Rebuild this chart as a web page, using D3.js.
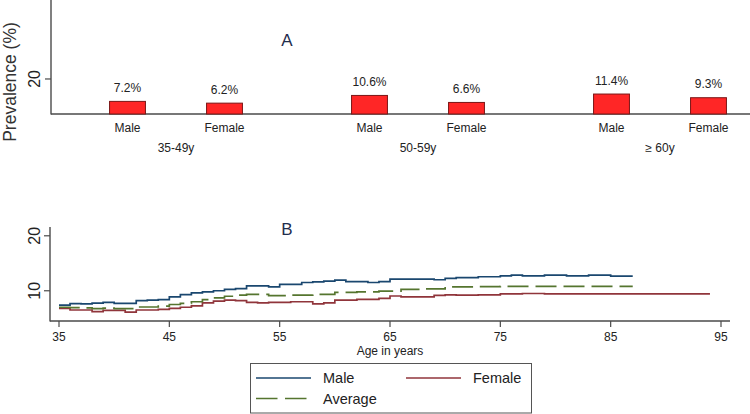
<!DOCTYPE html>
<html>
<head>
<meta charset="utf-8">
<script src="https://cdn.jsdelivr.net/npm/d3@7"></script>
<style>
  html, body { margin: 0; padding: 0; background: #fff; }
  svg { display: block; font-family: "Liberation Sans", Arial, sans-serif; }
</style>
</head>
<body>
<svg id="chart" width="750" height="414"></svg>
<script>
// ---------- Panel A data ----------
const ageGroups = ["35-49y", "50-59y", "\u2265 60y"];
const sexes = ["Male", "Female"];
const maleBars = [7.2, 10.6, 11.4];
const femaleBars = [6.2, 6.6, 9.3];
const aTicks = [20];

// ---------- Panel B data (step curves) ----------
const maleYears = d3.range(35, 88);
const maleValues = [7.4, 7.65, 7.6, 7.75, 7.9, 7.7, 7.7, 8.2, 8.3, 8.4,
  8.9, 9.3, 9.6, 9.8, 10.0, 10.25, 10.4, 10.9, 10.9, 10.7,
  11.15, 11.15, 11.5, 11.6, 11.75, 11.95, 11.65, 11.65, 11.5, 11.65,
  12.1, 12.1, 12.1, 12.1, 12.0, 12.25, 12.4, 12.4, 12.55, 12.55,
  12.7, 12.85, 12.7, 12.7, 12.85, 12.85, 12.7, 12.7, 12.85, 12.85,
  12.65, 12.65, 12.65];
const femaleYears = d3.range(35, 95);
const femaleValues = [6.8, 6.5, 6.5, 6.2, 6.45, 6.45, 6.1, 6.5, 6.5, 6.6,
  6.8, 7.0, 7.25, 7.8, 8.1, 8.3, 8.2, 7.9, 7.8, 7.9,
  7.9, 8.0, 8.0, 7.6, 7.8, 8.3, 8.3, 8.45, 8.45, 8.6,
  9.05, 8.9, 8.9, 8.9, 9.15, 9.25, 9.2, 9.2, 9.25, 9.25,
  9.45, 9.45, 9.5, 9.5, 9.45, 9.45, 9.45, 9.45, 9.45, 9.45,
  9.45, 9.45, 9.45, 9.45, 9.45, 9.45, 9.45, 9.45, 9.45, 9.45];
const avgYears = d3.range(35, 88);
const avgValues = [7.0, 6.95, 6.9, 6.75, 6.85, 6.75, 6.75, 7.05, 7.05, 7.2,
  7.5, 7.7, 8.0, 8.4, 8.7, 9.0, 9.2, 9.35, 9.35, 9.1,
  9.1, 9.2, 9.2, 9.35, 9.35, 9.7, 9.7, 9.8, 9.8, 9.95,
  9.95, 10.25, 10.25, 10.35, 10.35, 10.7, 10.7, 10.7, 10.75, 10.75,
  10.8, 10.8, 10.8, 10.8, 10.8, 10.8, 10.8, 10.8, 10.8, 10.8,
  10.8, 10.8, 10.8];
const bXTicks = [35, 45, 55, 65, 75, 85, 95];
const bYTicks = [10, 20];
const seriesNames = ["Male", "Female", "Average"];

const svg = d3.select("#chart");
const axisColor = "#4a4a4a";
const textColor = "#222";

// ================= Panel A =================
const A = { left: 51, base: 114, top: 0 };
const yA = d3.scaleLinear().domain([0, 65.1]).range([A.base, A.top]);
const x0 = d3.scaleBand().domain(ageGroups).range([55, 781]).padding(0);
const x1 = d3.scaleBand().domain(sexes).range([24, 218]).padding(0);
const barW = x1.bandwidth() * 0.37;

const gA = svg.append("g");
gA.append("line").attr("x1", A.left).attr("x2", A.left).attr("y1", A.top).attr("y2", A.base + 0.5)
  .attr("stroke", axisColor).attr("stroke-width", 1.4);
gA.append("line").attr("x1", A.left).attr("x2", 750).attr("y1", A.base).attr("y2", A.base)
  .attr("stroke", axisColor).attr("stroke-width", 1.4);
aTicks.forEach(t => {
  gA.append("line").attr("x1", A.left - 6).attr("x2", A.left).attr("y1", yA(t)).attr("y2", yA(t))
    .attr("stroke", axisColor).attr("stroke-width", 1.2);
  gA.append("text").attr("transform", `translate(40,${yA(t)}) rotate(-90)`)
    .attr("text-anchor", "middle").attr("font-size", 16).attr("fill", textColor).text(t);
});
gA.append("text").attr("transform", `translate(16,82) rotate(-90)`)
  .attr("text-anchor", "middle").attr("font-size", 17.5).attr("fill", "#333").text("Prevalence (%)");

const barData = [];
ageGroups.forEach((g, i) => {
  barData.push({ group: g, sex: "Male", value: maleBars[i] });
  barData.push({ group: g, sex: "Female", value: femaleBars[i] });
});
const cx = d => x0(d.group) + x1(d.sex) + x1.bandwidth() / 2;

gA.selectAll("rect.bar").data(barData).enter().append("rect")
  .attr("class", "bar")
  .attr("x", d => cx(d) - barW / 2)
  .attr("width", barW)
  .attr("y", d => yA(d.value))
  .attr("height", d => yA(0) - yA(d.value))
  .attr("fill", "#ff2626").attr("stroke", "#7a1616").attr("stroke-width", 1);

gA.selectAll("text.val").data(barData).enter().append("text")
  .attr("class", "val")
  .attr("x", d => cx(d)).attr("y", d => yA(d.value) - 9.5)
  .attr("text-anchor", "middle").attr("font-size", 12).attr("fill", textColor)
  .text(d => d.value.toFixed(1) + "%");

gA.selectAll("text.sex").data(barData).enter().append("text")
  .attr("class", "sex")
  .attr("x", d => cx(d)).attr("y", 131.5)
  .attr("text-anchor", "middle").attr("font-size", 12).attr("fill", textColor)
  .text(d => d.sex);

gA.selectAll("text.grp").data(ageGroups).enter().append("text")
  .attr("class", "grp")
  .attr("x", d => x0(d) + x0.bandwidth() / 2).attr("y", 151.5)
  .attr("text-anchor", "middle").attr("font-size", 12).attr("fill", textColor)
  .text(d => d);

svg.append("text").attr("x", 287).attr("y", 46).attr("text-anchor", "middle")
  .attr("font-size", 17).attr("fill", "#1f2d4d").text("A");

// ================= Panel B =================
const B = { left: 50, right: 730, base: 321, top: 227 };
const xB = d3.scaleLinear().domain([35, 95]).range([59, 721]);
const yB = d3.scaleLinear().domain([4.5, 21.6]).range([B.base, B.top]);

const gB = svg.append("g");
gB.append("line").attr("x1", B.left).attr("x2", B.left).attr("y1", B.top).attr("y2", B.base + 0.5)
  .attr("stroke", axisColor).attr("stroke-width", 1.4);
gB.append("line").attr("x1", B.left).attr("x2", B.right).attr("y1", B.base).attr("y2", B.base)
  .attr("stroke", axisColor).attr("stroke-width", 1.4);

bYTicks.forEach(t => {
  gB.append("line").attr("x1", B.left - 6).attr("x2", B.left).attr("y1", yB(t)).attr("y2", yB(t))
    .attr("stroke", axisColor).attr("stroke-width", 1.2);
  gB.append("text").attr("transform", `translate(39.5,${yB(t)}) rotate(-90)`)
    .attr("text-anchor", "middle").attr("font-size", 16).attr("fill", textColor).text(t);
});
bXTicks.forEach(t => {
  gB.append("line").attr("x1", xB(t)).attr("x2", xB(t)).attr("y1", B.base).attr("y2", B.base + 6)
    .attr("stroke", axisColor).attr("stroke-width", 1.2);
  gB.append("text").attr("x", xB(t)).attr("y", 341).attr("text-anchor", "middle")
    .attr("font-size", 12).attr("fill", textColor).text(t);
});
gB.append("text").attr("x", xB(65)).attr("y", 354.5).attr("text-anchor", "middle")
  .attr("font-size", 12).attr("fill", textColor).text("Age in years");

svg.append("text").attr("x", 287).attr("y", 235).attr("text-anchor", "middle")
  .attr("font-size", 17).attr("fill", "#1f2d4d").text("B");

const colors = { Male: "#1a476f", Female: "#90353b", Average: "#55752f" };
const dashes = { Male: null, Female: null, Average: "21,7" };
const series = [
  { name: "Male", pts: maleYears.map((y, i) => [y, maleValues[i]]) },
  { name: "Female", pts: femaleYears.map((y, i) => [y, femaleValues[i]]) },
  { name: "Average", pts: avgYears.map((y, i) => [y, avgValues[i]]) }
];
const line = d3.line().x(d => xB(d[0])).y(d => yB(d[1])).curve(d3.curveStepAfter);
gB.selectAll("path.s").data(series).enter().append("path")
  .attr("class", "s")
  .attr("d", d => line(d.pts))
  .attr("fill", "none")
  .attr("stroke", d => colors[d.name])
  .attr("stroke-width", 1.7)
  .attr("stroke-dasharray", d => dashes[d.name]);

// ================= Legend =================
const lg = svg.append("g");
lg.append("rect").attr("x", 250.5).attr("y", 363.5).attr("width", 281).attr("height", 49.5)
  .attr("fill", "#fff").attr("stroke", "#555").attr("stroke-width", 1);
const legendPos = {
  Male: { x: 256, y: 378 },
  Female: { x: 406, y: 378 },
  Average: { x: 256, y: 398.5 }
};
seriesNames.forEach(n => {
  const p = legendPos[n];
  lg.append("line").attr("x1", p.x).attr("x2", p.x + 55).attr("y1", p.y).attr("y2", p.y)
    .attr("stroke", colors[n]).attr("stroke-width", 1.7)
    .attr("stroke-dasharray", n === "Average" ? "21.5,7.5" : null);
  lg.append("text").attr("x", p.x + 67).attr("y", p.y + 5.2)
    .attr("font-size", 14.5).attr("fill", textColor).text(n);
});
</script>
</body>
</html>
